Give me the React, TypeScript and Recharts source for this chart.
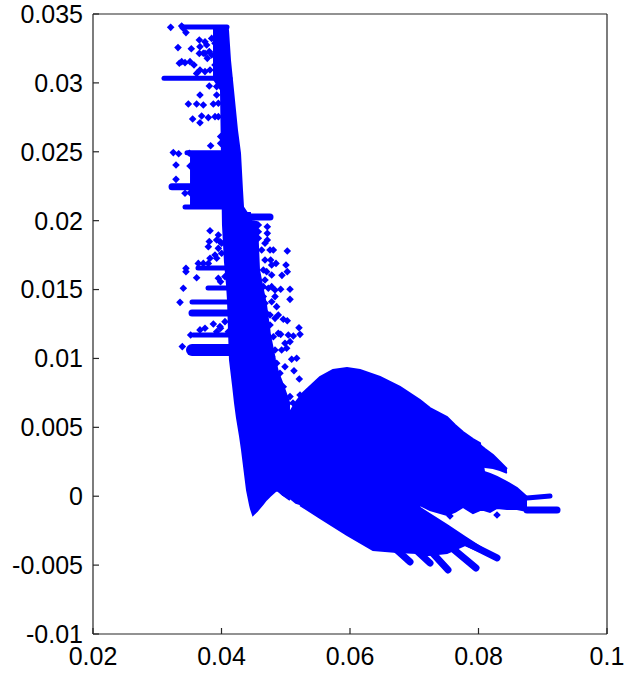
import { Area, ComposedChart, Scatter, XAxis, YAxis } from 'recharts';

const BLUE = '#0000ff';
const INK = '#262626';

const xTicks = [0.02, 0.04, 0.06, 0.08, 0.1];
const yTicks = [-0.01, -0.005, 0, 0.005, 0.01, 0.015, 0.02, 0.025, 0.03, 0.035];

// solid regions of overlapping markers: [x, lower y, upper y]
const columnBody = [
  [0.03868, 0.03035, 0.03406], [0.03992, 0.02948, 0.03406], [0.04023, 0.01969, 0.03406],
  [0.04054, 0.017, 0.03406], [0.04086, 0.01533, 0.03406], [0.04101, 0.01424, 0.03384],
  [0.04132, 0.00989, 0.03166], [0.04179, 0.00807, 0.02948], [0.0421, 0.00677, 0.02803],
  [0.04241, 0.00568, 0.02658], [0.04288, 0.00437, 0.02491], [0.04319, 0.00336, 0.02223],
  [0.04335, 0.00277, 0.02099], [0.04397, 0.00045, 0.02056], [0.04444, -0.00064, 0.02056],
  [0.04459, -0.00093, 0.02], [0.0449, -0.00136, 0.01995], [0.04552, -0.00107, 0.0199],
  [0.04584, -0.0009, 0.01642], [0.04646, -0.00056, 0.01497], [0.04693, -0.00027, 0.01388],
  [0.04755, 0.00002, 0.0117], [0.04833, 0.00035, 0.00989], [0.04879, 0.00045, 0.00902],
  [0.04957, 0.00009, 0.00807], [0.05066, -0.00027, 0.00662],
];
const blockBody = [
  [0.0351, 0.02114, 0.02477], [0.0415, 0.02114, 0.02477],
];
const upperLobe = [
  [0.04864, 0.00045, 0.00336], [0.04957, 0.00009, 0.00408], [0.05066, -0.00013, 0.00611],
  [0.05159, -0.00049, 0.00684], [0.05268, -0.00064, 0.00749], [0.05533, -0.00085, 0.00865],
  [0.05735, -0.00085, 0.00916], [0.05953, -0.00085, 0.00931], [0.06156, -0.00085, 0.00916],
  [0.06467, -0.00085, 0.00865], [0.06778, -0.00064, 0.00793], [0.07089, -0.00064, 0.00698],
  [0.07245, -0.001, 0.0064], [0.0751, -0.00136, 0.00575], [0.07634, -0.00114, 0.00517],
  [0.07759, -0.00078, 0.00466], [0.07914, -0.00122, 0.00415], [0.08023, -0.001, 0.00386],
  [0.08086, -0.001, 0.00176], [0.08179, -0.00114, 0.00161], [0.08288, -0.00085, 0.0014],
  [0.08443, -0.00093, 0.00103], [0.08599, -0.00093, 0.0006], [0.08755, -0.00107, -0.00006],
];
const upperFinger = [
  [0.08023, 0.00227, 0.00372], [0.08101, 0.00212, 0.00343], [0.08226, 0.00205, 0.00299],
  [0.08335, 0.0019, 0.00248], [0.08443, 0.00169, 0.00198],
];
const lowerLobe = [
  [0.05222, -0.00064, 0.00045], [0.05533, -0.00158, 0.00081], [0.05953, -0.00281, 0.00045],
  [0.06358, -0.0039, 0.00118], [0.06731, -0.00405, -0.0003], [0.07043, -0.00412, -0.0003],
  [0.07089, -0.00434, -0.00085], [0.0751, -0.00412, -0.00209], [0.0779, -0.00354, -0.00296],
  [0.08288, -0.00456, -0.00448],
];

// runs of markers that read as streaks: pairs of [x, y]
const streaksNarrow = [
  [[0.03385, 0.03406], [0.04086, 0.03406]],
  [[0.03105, 0.03033], [0.04132, 0.03033]],
  [[0.03463, 0.02493], [0.04132, 0.02493]],
  [[0.03432, 0.02099], [0.04132, 0.02099]],
  [[0.03634, 0.01657], [0.04054, 0.01657]],
  [[0.0379, 0.01511], [0.04179, 0.01511]],
  [[0.03541, 0.0141], [0.0421, 0.0141]],
  [[0.0356, 0.0117], [0.0421, 0.0117]],
  [[0.08755, -0.00013], [0.09113, 0.00002]],
];
const streaksMedium = [
  [[0.0323, 0.02247], [0.03899, 0.02247]],
  [[0.04366, 0.02027], [0.04755, 0.02027]],
  [[0.03541, 0.0133], [0.04288, 0.0133]],
  [[0.08755, -0.001], [0.09222, -0.001]],
  [[0.0779, -0.00332], [0.08288, -0.00448]],
  [[0.06467, -0.00281], [0.06934, -0.00477]],
  [[0.06856, -0.00318], [0.07245, -0.00485]],
  [[0.07167, -0.00354], [0.07525, -0.00535]],
  [[0.07587, -0.00376], [0.07961, -0.00521]],
];
const streaksWide = [
  [[0.03541, 0.01062], [0.0421, 0.01062]],
];

// loose markers around the edges: [x, y]
const looseTop = [
  [0.03209, 0.03403], [0.03406, 0.03396], [0.03447, 0.03365], [0.0338, 0.03413], [0.03323, 0.03256],
  [0.0353, 0.03248], [0.03655, 0.03311], [0.03743, 0.03299], [0.03665, 0.03263], [0.03655, 0.03214],
  [0.03743, 0.03214], [0.0381, 0.03227], [0.03344, 0.03142], [0.0338, 0.03154], [0.03432, 0.03147],
  [0.0351, 0.03154], [0.03572, 0.0313], [0.03665, 0.03094], [0.03613, 0.03069], [0.03821, 0.03094],
  [0.0381, 0.02977], [0.03665, 0.02912], [0.03925, 0.02912], [0.03484, 0.02847], [0.03613, 0.02847],
  [0.03717, 0.0284], [0.03873, 0.02847], [0.03551, 0.02738], [0.03665, 0.02711], [0.03691, 0.0276],
  [0.03795, 0.02748], [0.03899, 0.02755], [0.03831, 0.02544], [0.0325, 0.02494], [0.03333, 0.02486],
  [0.03499, 0.02489], [0.03292, 0.02404], [0.0351, 0.02397], [0.03292, 0.023], [0.03432, 0.02199],
  [0.0351, 0.02203], [0.03769, 0.03275], [0.03847, 0.03323], [0.03717, 0.03215], [0.03779, 0.03178],
  [0.03847, 0.03202], [0.03743, 0.03082], [0.03899, 0.03287], [0.03899, 0.0313], [0.03925, 0.02973],
  [0.03951, 0.02852], [0.03951, 0.02755], [0.03987, 0.0261], [0.03987, 0.02561],
];
const looseLeft = [
  [0.03821, 0.01927], [0.03951, 0.01896], [0.03976, 0.01848], [0.0381, 0.01848], [0.03795, 0.01811],
  [0.03951, 0.01799], [0.03899, 0.01751], [0.03821, 0.01727], [0.03925, 0.01727], [0.03639, 0.0169],
  [0.03447, 0.01654], [0.03447, 0.0163], [0.03613, 0.01586], [0.03406, 0.01509], [0.03951, 0.01582],
  [0.03354, 0.01407], [0.03873, 0.0125], [0.04054, 0.01267], [0.03665, 0.01207], [0.03743, 0.01219],
  [0.03985, 0.01219], [0.0352, 0.0117], [0.0339, 0.01086], [0.03976, 0.01231], [0.04106, 0.01194],
  [0.03925, 0.01194], [0.03985, 0.01557], [0.04054, 0.01594], [0.04002, 0.01836], [0.03925, 0.0186],
  [0.04002, 0.01763], [0.03717, 0.0169], [0.03795, 0.0169],
];
const looseRight = [
  [0.04573, 0.01969], [0.04573, 0.0192], [0.04573, 0.01872], [0.04713, 0.01956], [0.04713, 0.01908],
  [0.04713, 0.0186], [0.04755, 0.01787], [0.04807, 0.01787], [0.05024, 0.0178], [0.04765, 0.01715],
  [0.04848, 0.0169], [0.04781, 0.01678], [0.05004, 0.01678], [0.05024, 0.0163], [0.04941, 0.01603],
  [0.04703, 0.0163], [0.04781, 0.01606], [0.04677, 0.01569], [0.04651, 0.01521], [0.04729, 0.01509],
  [0.04833, 0.01497], [0.04921, 0.01502], [0.05066, 0.01502], [0.05066, 0.01429], [0.04833, 0.01449],
  [0.04781, 0.01412], [0.04858, 0.01376], [0.04884, 0.01315], [0.04962, 0.01284], [0.05024, 0.01274],
  [0.04755, 0.01243], [0.04833, 0.01291], [0.05206, 0.01223], [0.05222, 0.01175], [0.04921, 0.01175],
  [0.0504, 0.0117], [0.05118, 0.01163], [0.05066, 0.01122], [0.04807, 0.01158], [0.05014, 0.01074],
  [0.04833, 0.01061], [0.04936, 0.01061], [0.05092, 0.00994], [0.0517, 0.01001], [0.05128, 0.00911],
  [0.05211, 0.00851], [0.05222, 0.00735], [0.04988, 0.0094], [0.0491, 0.00892], [0.04962, 0.00795],
  [0.05066, 0.00723], [0.04859, 0.00965], [0.04677, 0.014], [0.04703, 0.01328], [0.04703, 0.01207],
  [0.04729, 0.0111], [0.04781, 0.01013], [0.04833, 0.00892], [0.04884, 0.00771], [0.04651, 0.01449],
  [0.05113, 0.00677], [0.0505, 0.0059], [0.04988, 0.0111], [0.04884, 0.01182], [0.04755, 0.01315],
  [0.04781, 0.01521], [0.04677, 0.01836], [0.04625, 0.01787], [0.04677, 0.01715], [0.04651, 0.01642],
];
const looseLow = [
  [0.07556, -0.00144], [0.08288, -0.00136],
];

const bodies = [columnBody, blockBody, upperLobe, upperFinger, lowerLobe];
const streakGroups = [
  { rows: streaksNarrow, weight: 5 },
  { rows: streaksMedium, weight: 7 },
  { rows: streaksWide, weight: 12 },
];
const looseGroups = [looseTop, looseLeft, looseRight, looseLow];

const toPoints = (rows: number[][]) => rows.map(([x, y]) => ({ x, y }));
const toBand = (rows: number[][]) => rows.map(([x, lo, hi]) => ({ x, band: [lo, hi] }));

const tickStyle = { fontFamily: '"Liberation Sans", Arial, sans-serif', fontSize: 25, fill: '#000' };
const axisLine = { stroke: INK, strokeWidth: 1.2 };

const Marker = ({ cx, cy }: { cx?: number; cy?: number }) => (
  <path
    d={`M${cx} ${(cy ?? 0) - 3.8}L${(cx ?? 0) + 3.8} ${cy}L${cx} ${(cy ?? 0) + 3.8}L${(cx ?? 0) - 3.8} ${cy}Z`}
    fill={BLUE}
  />
);

export default function App() {
  return (
    <div style={{ position: 'absolute', left: 0, top: 0, width: 626, height: 677, background: '#fff' }}>
      <ComposedChart width={626} height={677} margin={{ top: 0, right: 0, bottom: 0, left: 0 }} style={{ overflow: 'visible' }}>
        <XAxis
          type="number"
          dataKey="x"
          domain={[0.02, 0.1]}
          ticks={xTicks}
          interval={0}
          height={43}
          tickSize={-6}
          tickMargin={19}
          tick={tickStyle}
          tickLine={axisLine}
          axisLine={axisLine}
          tickFormatter={(v) => String(v)}
        />
        <XAxis
          xAxisId="top"
          orientation="top"
          type="number"
          dataKey="x"
          domain={[0.02, 0.1]}
          ticks={xTicks}
          interval={0}
          height={14}
          tickSize={-6}
          tick={false}
          tickLine={axisLine}
          axisLine={axisLine}
        />
        <YAxis
          type="number"
          dataKey="y"
          domain={[-0.01, 0.035]}
          ticks={yTicks}
          interval={0}
          width={93}
          tickSize={-6}
          tickMargin={16}
          tick={tickStyle}
          tickLine={axisLine}
          axisLine={axisLine}
          tickFormatter={(v) => String(v)}
        />
        <YAxis
          yAxisId="right"
          orientation="right"
          type="number"
          dataKey="y"
          domain={[-0.01, 0.035]}
          ticks={yTicks}
          interval={0}
          width={19}
          tickSize={-6}
          tick={false}
          tickLine={axisLine}
          axisLine={axisLine}
        />
        {bodies.map((rows, i) => (
          <Area
            key={`body-${i}`}
            data={toBand(rows)}
            dataKey="band"
            type="linear"
            fill={BLUE}
            fillOpacity={1}
            stroke={BLUE}
            strokeWidth={2}
            dot={false}
            activeDot={false}
            isAnimationActive={false}
          />
        ))}
        {streakGroups.flatMap((group, g) =>
          group.rows.map((rows, i) => (
            <Scatter
              key={`streak-${g}-${i}`}
              data={toPoints(rows)}
              line={{ stroke: BLUE, strokeWidth: group.weight, strokeLinecap: 'round' }}
              shape={() => null}
              isAnimationActive={false}
            />
          ))
        )}
        {looseGroups.map((rows, i) => (
          <Scatter
            key={`loose-${i}`}
            data={toPoints(rows)}
            shape={<Marker />}
            isAnimationActive={false}
          />
        ))}
      </ComposedChart>
    </div>
  );
}
